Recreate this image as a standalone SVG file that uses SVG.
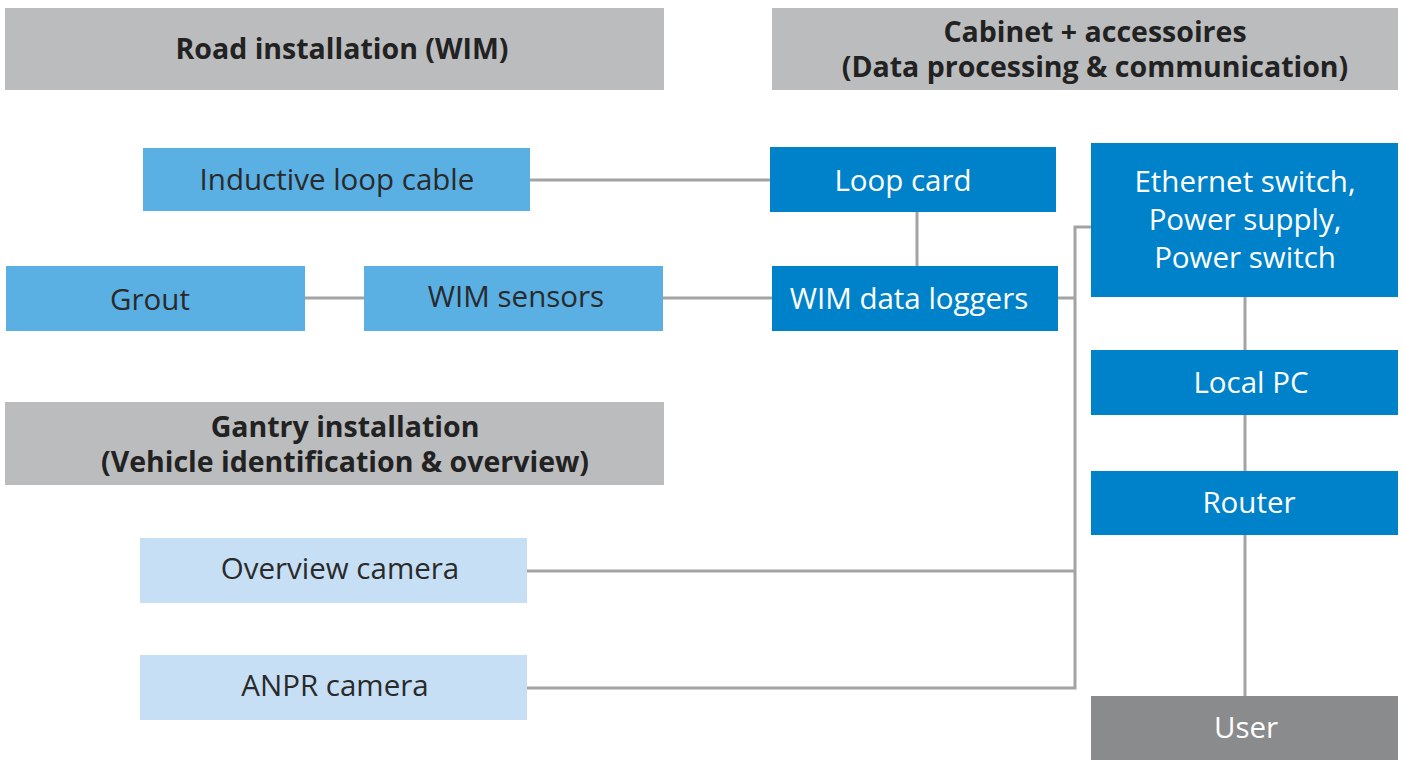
<svg xmlns="http://www.w3.org/2000/svg" width="1405" height="760" viewBox="0 0 1405 760">
  <style>
    .hdr { fill: #bbbcbe; }
    .hdr-t { font-family: "Open Sans", "Liberation Sans", sans-serif; font-weight: 700; font-size: 28.5px; fill: #222222; text-anchor: middle; }
    .dark { fill: #0082ca; }
    .mid { fill: #5aafe3; }
    .pale { fill: #c6dff5; }
    .grey { fill: #8a8b8d; }
    .lbl { font-family: "Open Sans", "Liberation Sans", sans-serif; font-size: 29.5px; text-anchor: middle; }
    .w { fill: #ffffff; }
    .k { fill: #2a2a2a; }
    .conn line, .conn polyline { stroke: #a3a3a3; stroke-width: 3; fill: none; }
  </style>

  <!-- section headers -->
  <g id="hdr-road">
    <rect class="hdr" x="5" y="8" width="659" height="82"/>
    <text class="hdr-t" x="342" y="59">Road installation (WIM)</text>
  </g>
  <g id="hdr-cabinet">
    <rect class="hdr" x="772" y="8" width="626" height="82"/>
    <text class="hdr-t" x="1095" y="42">Cabinet + accessoires</text>
    <text class="hdr-t" x="1095" y="77">(Data processing &amp; communication)</text>
  </g>
  <g id="hdr-gantry">
    <rect class="hdr" x="5" y="402" width="659" height="83"/>
    <text class="hdr-t" x="345" y="437">Gantry installation</text>
    <text class="hdr-t" x="345" y="472">(Vehicle identification &amp; overview)</text>
  </g>

  <!-- connectors -->
  <g id="connectors" class="conn">
    <line x1="530" y1="180" x2="770" y2="180"/>
    <line x1="917" y1="212" x2="917" y2="266"/>
    <line x1="305" y1="298" x2="364" y2="298"/>
    <line x1="663" y1="298" x2="772" y2="298"/>
    <line x1="1058" y1="298" x2="1075" y2="298"/>
    <polyline points="1091,227 1075,227 1075,688 527,688"/>
    <line x1="527" y1="571" x2="1075" y2="571"/>
    <line x1="1245" y1="297" x2="1245" y2="350"/>
    <line x1="1245" y1="415" x2="1245" y2="471"/>
    <line x1="1245" y1="535" x2="1245" y2="696"/>
  </g>

  <!-- road installation -->
  <g id="inductive-loop">
    <rect class="mid" x="143" y="148" width="387" height="63"/>
    <text class="lbl k" x="337" y="190">Inductive loop cable</text>
  </g>
  <g id="grout">
    <rect class="mid" x="6" y="266" width="299" height="65"/>
    <text class="lbl k" x="150" y="310">Grout</text>
  </g>
  <g id="wim-sensors">
    <rect class="mid" x="364" y="266" width="299" height="65"/>
    <text class="lbl k" x="516" y="307">WIM sensors</text>
  </g>

  <!-- cabinet -->
  <g id="loop-card">
    <rect class="dark" x="770" y="147" width="286" height="65"/>
    <text class="lbl w" x="903" y="191">Loop card</text>
  </g>
  <g id="wim-loggers">
    <rect class="dark" x="772" y="266" width="286" height="65"/>
    <text class="lbl w" x="909" y="309">WIM data loggers</text>
  </g>
  <g id="ethernet-switch">
    <rect class="dark" x="1091" y="143" width="307" height="154"/>
    <text class="lbl w" x="1245" y="192">Ethernet switch,</text>
    <text class="lbl w" x="1245" y="230">Power supply,</text>
    <text class="lbl w" x="1245" y="268">Power switch</text>
  </g>
  <g id="local-pc">
    <rect class="dark" x="1091" y="350" width="307" height="65"/>
    <text class="lbl w" x="1251" y="393">Local PC</text>
  </g>
  <g id="router">
    <rect class="dark" x="1091" y="471" width="307" height="64"/>
    <text class="lbl w" x="1249" y="513">Router</text>
  </g>
  <g id="user">
    <rect class="grey" x="1091" y="696" width="307" height="64"/>
    <text class="lbl w" x="1246" y="738">User</text>
  </g>

  <!-- gantry -->
  <g id="overview-camera">
    <rect class="pale" x="140" y="538" width="387" height="65"/>
    <text class="lbl k" x="340" y="579">Overview camera</text>
  </g>
  <g id="anpr-camera">
    <rect class="pale" x="140" y="655" width="387" height="65"/>
    <text class="lbl k" x="335" y="696">ANPR camera</text>
  </g>
</svg>
